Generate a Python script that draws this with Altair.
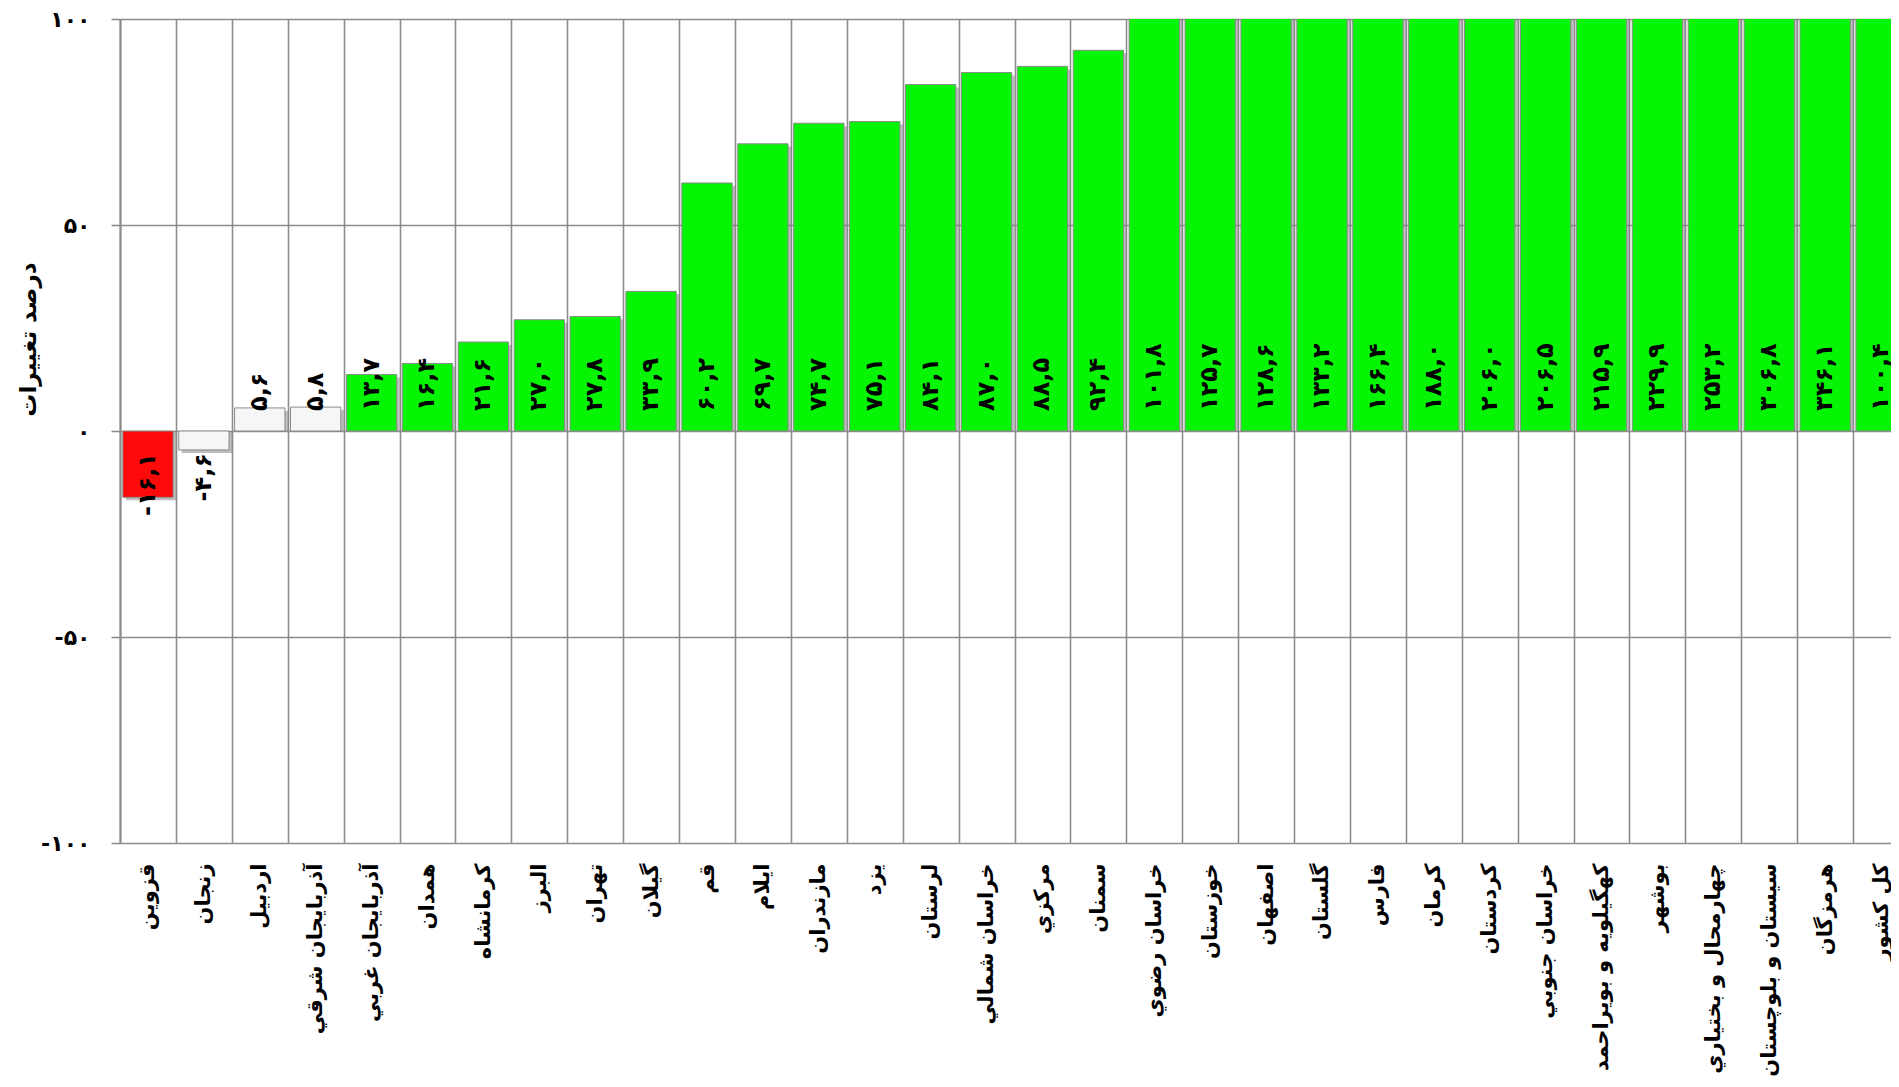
import altair as alt
import pandas as pd

provinces = [
    "قزوين", "زنجان", "اردبيل", "آذربايجان شرقي", "آذربايجان غربي", "همدان",
    "كرمانشاه", "البرز", "تهران", "گيلان", "قم", "ايلام", "مازندران", "يزد",
    "لرستان", "خراسان شمالي", "مركزي", "سمنان", "خراسان رضوي", "خوزستان",
    "اصفهان", "گلستان", "فارس", "كرمان", "كردستان", "خراسان جنوبي",
    "كهگيلويه و بويراحمد", "بوشهر", "چهارمحال و بختياري", "سيستان و بلوچستان",
    "هرمزگان", "كل كشور",
]
changes = [
    -16.1, -4.6, 5.6, 5.8, 13.7, 16.4, 21.6, 27.0, 27.8, 33.9, 60.2, 69.7,
    74.7, 75.1, 84.1, 87.0, 88.5, 92.4, 101.8, 125.7, 128.6, 133.2, 166.4,
    188.0, 206.0, 206.5, 215.9, 229.9, 253.2, 306.8, 346.1, 100.4,
]
y_ticks = [-100, -50, 0, 50, 100]
y_tick_labels = ["-۱۰۰", "-۵۰", "۰", "۵۰", "۱۰۰"]
y_title = "درصد تغييرات"

FA = str.maketrans("0123456789", "۰۱۲۳۴۵۶۷۸۹")


def fa(v):
    return f"{v:.1f}".replace(".", ",").translate(FA)


df = pd.DataFrame({"province": provinces, "change": changes,
                   "label": [fa(v) for v in changes]})

FONT = "DejaVu Sans"
GRID = "#8c8c8c"

label_expr = " : ".join(
    f"datum.value == {v} ? '{t}'" for v, t in zip(y_ticks, y_tick_labels)
) + " : ''"

# the band range is wider than the visible plot: the last category is cut off
x_enc = alt.X(
    "province:N", sort=None,
    scale=alt.Scale(paddingInner=0, paddingOuter=0, range=[0, 1789]),
    axis=alt.Axis(
        title=None, labelAngle=270, labelAlign="right", labelBaseline="middle",
        labelFont=FONT, labelFontSize=21, labelFontWeight="bold",
        labelColor="black", labelPadding=20, labelLimit=400, ticks=False,
        domain=False, grid=True, gridColor=GRID, gridWidth=1.6,
        tickBand="extent",
    ),
)

y_scale = alt.Scale(domain=[-100, 100], nice=False, zero=False)
y_axis = alt.Axis(
    values=y_ticks, labelExpr=label_expr, title=y_title,
    labelFont=FONT, labelFontSize=22, labelFontWeight="bold",
    labelColor="black", labelPadding=21, tickSize=9, tickColor=GRID,
    tickWidth=1.6, domainColor=GRID, domainWidth=2, gridColor=GRID,
    gridWidth=1.6, titleFont=FONT, titleFontSize=23, titleFontWeight="bold",
    titleColor="black", titleAngle=270, titleX=-92, titleY=320,
    titleAlign="center", titleBaseline="middle",
)

base = alt.Chart(df).transform_calculate(
    grp="datum.change < -10 ? 'neg' : (datum.change < 10 ? 'small' : 'pos')",
    zero="0",
)

shadow = base.mark_bar(
    width=alt.RelativeBandSize(0.9), color="#6f6f6f", opacity=0.45, clip=True
).encode(
    x=x_enc,
    y=alt.Y("change:Q", scale=y_scale, axis=y_axis),
    y2=alt.Y2("zero:Q"),
    xOffset=alt.value(3),
    yOffset=alt.value(3),
)

bars = base.mark_bar(
    width=alt.RelativeBandSize(0.9), clip=True, stroke="#8a8a8a",
    strokeWidth=1,
).encode(
    x=x_enc,
    y=alt.Y("change:Q", scale=y_scale, axis=y_axis),
    y2=alt.Y2("zero:Q"),
    color=alt.Color(
        "grp:N",
        scale=alt.Scale(domain=["neg", "small", "pos"],
                        range=["#ff0a0a", "#f6f6f6", "#05f505"]),
        legend=None,
    ),
)

pos_labels = base.transform_filter("datum.change >= 0").mark_text(
    angle=270, align="left", baseline="middle", dx=20, font=FONT,
    fontSize=24, fontWeight="bold", color="black",
).encode(
    x=x_enc,
    y=alt.Y("zero:Q", scale=y_scale, axis=y_axis),
    text="label:N",
)

neg_labels = base.transform_filter("datum.change < 0").mark_text(
    angle=270, align="right", baseline="middle", dx=-22, font=FONT,
    fontSize=24, fontWeight="bold", color="black",
).encode(
    x=x_enc,
    y=alt.Y("zero:Q", scale=y_scale, axis=y_axis),
    text="label:N",
)

chart = alt.layer(shadow, bars, pos_labels, neg_labels).properties(
    width=1771, height=824,
    autosize=alt.AutoSizeParams(type="none"),
    padding={"left": 112, "top": 11, "right": 0, "bottom": 236},
    background="white",
).configure_view(stroke=None)

chart.save("out.html", embed_options={"renderer": "svg", "actions": False})
